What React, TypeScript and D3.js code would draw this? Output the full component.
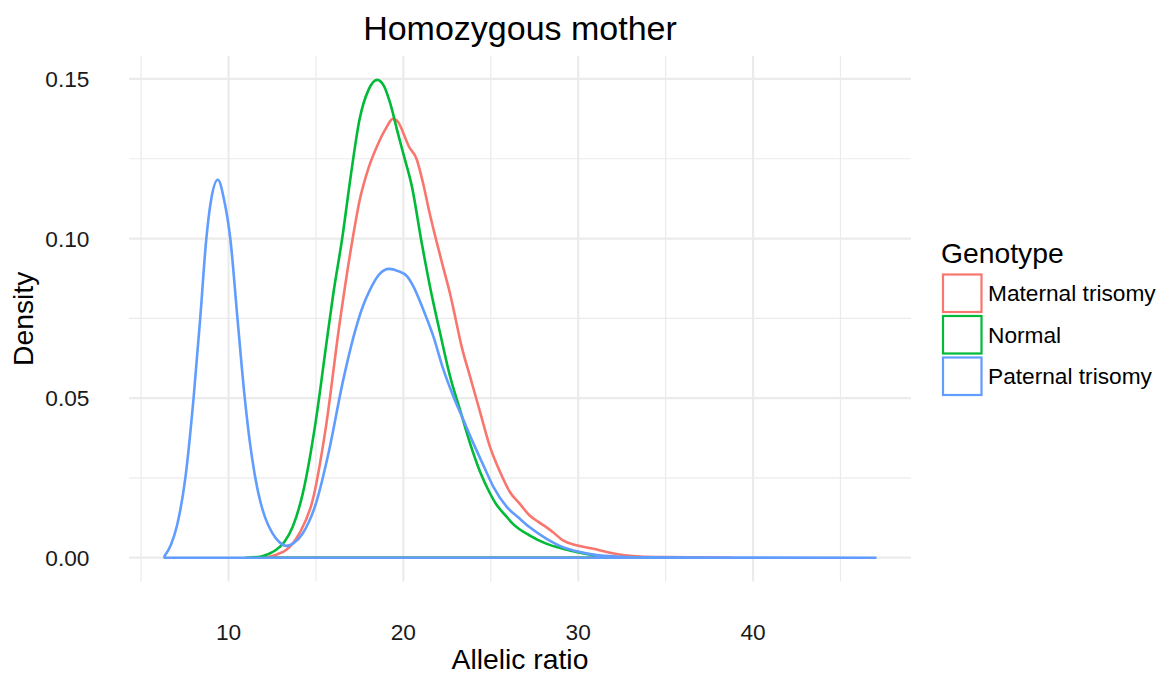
import React from "react";
import * as d3 from "d3";

// ---- data ----
const genotypes = ["Maternal trisomy", "Normal", "Paternal trisomy"];
const colors = ["#F8766D", "#00BA38", "#619CFF"];

const maternalX = [11.8, 12.33, 12.8, 13.29, 14.05, 14.81, 15.57, 16.33, 17.1, 17.5, 18.0, 18.5, 19.0, 19.4, 19.7, 20.0, 20.3, 20.75, 21.14, 21.5, 21.9, 22.3, 22.7, 23.0, 23.33, 23.81, 24.38, 24.95, 25.52, 26.1, 26.67, 27.21, 27.7, 28.17, 28.56, 29.13, 29.9, 30.87, 31.63, 32.8, 33.56, 35.0, 37.0, 38.8];
const maternalY = [0, 0.0003, 0.0011, 0.0024, 0.0076, 0.018, 0.041, 0.0725, 0.1, 0.112, 0.122, 0.129, 0.1345, 0.1375, 0.1365, 0.133, 0.129, 0.125, 0.117, 0.108, 0.099, 0.0905, 0.082, 0.0745, 0.0662, 0.0568, 0.0458, 0.0348, 0.027, 0.0205, 0.0168, 0.0133, 0.0113, 0.0096, 0.008, 0.0054, 0.0039, 0.0028, 0.0018, 0.0007, 0.0004, 0.0002, 0.0001, 0];

const normalX = [11.0, 11.8, 12.3, 12.71, 13.2, 13.67, 14.24, 15.0, 15.57, 16.0, 16.5, 17.0, 17.5, 18.0, 18.5, 18.9, 19.24, 19.7, 20.0, 20.48, 21.05, 21.52, 22.1, 22.67, 23.24, 23.81, 24.38, 24.95, 25.29, 25.8, 26.25, 27.21, 28.17, 29.13, 30.1, 31.06, 32.0, 34.0, 35.5];
const normalY = [0, 0.0003, 0.0012, 0.0024, 0.005, 0.0097, 0.02, 0.0432, 0.066, 0.083, 0.1, 0.12, 0.1375, 0.1465, 0.1497, 0.1477, 0.1425, 0.1327, 0.1265, 0.1165, 0.0986, 0.085, 0.0704, 0.0568, 0.0463, 0.0359, 0.027, 0.0202, 0.0169, 0.0135, 0.0107, 0.007, 0.0044, 0.0028, 0.0016, 0.0007, 0.0002, 0.00005, 0];

const paternalX = [6.34, 6.7, 7.05, 7.53, 8.0, 8.38, 8.73, 9.0, 9.39, 9.75, 10.1, 10.51, 10.91, 11.2, 11.5, 11.8, 12.1, 12.5, 12.9, 13.3, 13.7, 14.24, 15.0, 15.76, 16.52, 17.29, 17.7, 18.05, 18.62, 19.19, 19.7, 20.2, 20.57, 21.14, 21.71, 22.29, 22.86, 23.43, 24.0, 24.57, 25.14, 25.9, 26.6, 27.21, 28.17, 29.13, 30.1, 31.06, 32.4, 34.0, 38.0, 47.0];
const paternalY = [0.0005, 0.004, 0.01, 0.025, 0.05, 0.075, 0.1, 0.112, 0.1184, 0.112, 0.1, 0.075, 0.051, 0.037, 0.026, 0.018, 0.0125, 0.0078, 0.0049, 0.0037, 0.0045, 0.0076, 0.017, 0.0338, 0.0547, 0.072, 0.079, 0.0835, 0.0888, 0.0905, 0.0898, 0.0882, 0.085, 0.0777, 0.0694, 0.0589, 0.0505, 0.0432, 0.0359, 0.029, 0.0223, 0.016, 0.0125, 0.0096, 0.006, 0.0033, 0.0018, 0.0008, 0.0003, 0.0001, 0.00003, 0];

const xTicks = [10, 20, 30, 40];
const xMinorTicks = [5, 15, 25, 35, 45];
const yTicks = [0, 0.05, 0.1, 0.15];
const yMinorTicks = [0.025, 0.075, 0.125];
const yTickLabels = ["0.00", "0.05", "0.10", "0.15"];

const titleText = "Homozygous mother";
const xTitle = "Allelic ratio";
const yTitle = "Density";
const legendTitle = "Genotype";

export default function App() {
  const W = 1168, H = 675;
  const panel = { left: 129, right: 911, top: 56, bottom: 581.6 };
  const font = "'Liberation Sans', Arial, Helvetica, sans-serif";

  const seriesX = [maternalX, normalX, paternalX];
  const seriesY = [maternalY, normalY, paternalY];

  const allX = seriesX.flat();
  const allY = seriesY.flat();
  const xMin = d3.min(allX)!, xMax = d3.max(allX)!;
  const yMin = 0, yMax = d3.max(allY)!;
  const xPad = (xMax - xMin) * 0.05;
  const yPad = (yMax - yMin) * 0.05;

  const x = d3.scaleLinear().domain([xMin - xPad, xMax + xPad]).range([panel.left, panel.right]);
  const y = d3.scaleLinear().domain([yMin - yPad, yMax + yPad]).range([panel.bottom, panel.top]);

  const line = d3
    .line<[number, number]>()
    .x((d) => x(d[0]))
    .y((d) => y(d[1]))
    .curve(d3.curveMonotoneX);

  const gridColor = "#EBEBEB";
  const textColor = "#1a1a1a";

  return (
    <svg width={W} height={H} style={{ position: "absolute", left: 0, top: 0, background: "#fff" }} fontFamily={font}>
      {/* minor grid */}
      {xMinorTicks.map((t) => (
        <line key={"xm" + t} x1={x(t)} x2={x(t)} y1={panel.top} y2={panel.bottom} stroke={gridColor} strokeWidth={1.2} />
      ))}
      {yMinorTicks.map((t) => (
        <line key={"ym" + t} x1={panel.left} x2={panel.right} y1={y(t)} y2={y(t)} stroke={gridColor} strokeWidth={1.2} />
      ))}
      {/* major grid */}
      {xTicks.map((t) => (
        <line key={"x" + t} x1={x(t)} x2={x(t)} y1={panel.top} y2={panel.bottom} stroke={gridColor} strokeWidth={2.2} />
      ))}
      {yTicks.map((t) => (
        <line key={"y" + t} x1={panel.left} x2={panel.right} y1={y(t)} y2={y(t)} stroke={gridColor} strokeWidth={2.2} />
      ))}

      {/* density outlines */}
      {seriesX.map((xs, i) => {
        const pts: [number, number][] = xs.map((v, j) => [v, seriesY[i][j]]);
        const d =
          line(pts)! +
          "L" + x(xs[xs.length - 1]) + "," + y(0) +
          "L" + x(xs[0]) + "," + y(0) + "Z";
        return (
          <path key={genotypes[i]} d={d} fill="none" stroke={colors[i]} strokeWidth={2.6} strokeLinejoin="round" />
        );
      })}

      {/* y tick labels */}
      {yTicks.map((t, i) => (
        <text key={"yl" + t} x={89.5} y={y(t)} dy="0.36em" textAnchor="end" fontSize={22.7} fill={textColor}>
          {yTickLabels[i]}
        </text>
      ))}
      {/* x tick labels */}
      {xTicks.map((t) => (
        <text key={"xl" + t} x={x(t)} y={640} textAnchor="middle" fontSize={22.7} fill={textColor}>
          {t}
        </text>
      ))}

      {/* titles */}
      <text x={(panel.left + panel.right) / 2} y={40} textAnchor="middle" fontSize={34} fill="#000">
        {titleText}
      </text>
      <text x={(panel.left + panel.right) / 2} y={669} textAnchor="middle" fontSize={28.3} fill="#000">
        {xTitle}
      </text>
      <text
        transform={`translate(33, ${(panel.top + panel.bottom) / 2}) rotate(-90)`}
        textAnchor="middle"
        fontSize={28.3}
        fill="#000"
      >
        {yTitle}
      </text>

      {/* legend */}
      <text x={941} y={263} fontSize={28.3} fill="#000">
        {legendTitle}
      </text>
      {genotypes.map((g, i) => {
        const top = 274.5 + i * 41.5;
        return (
          <g key={"lg" + g}>
            <rect x={943} y={top} width={38.5} height={37.5} fill="none" stroke={colors[i]} strokeWidth={2.2} />
            <text x={988} y={top + 18.75} dy="0.36em" fontSize={22.7} fill="#000">
              {g}
            </text>
          </g>
        );
      })}
    </svg>
  );
}
